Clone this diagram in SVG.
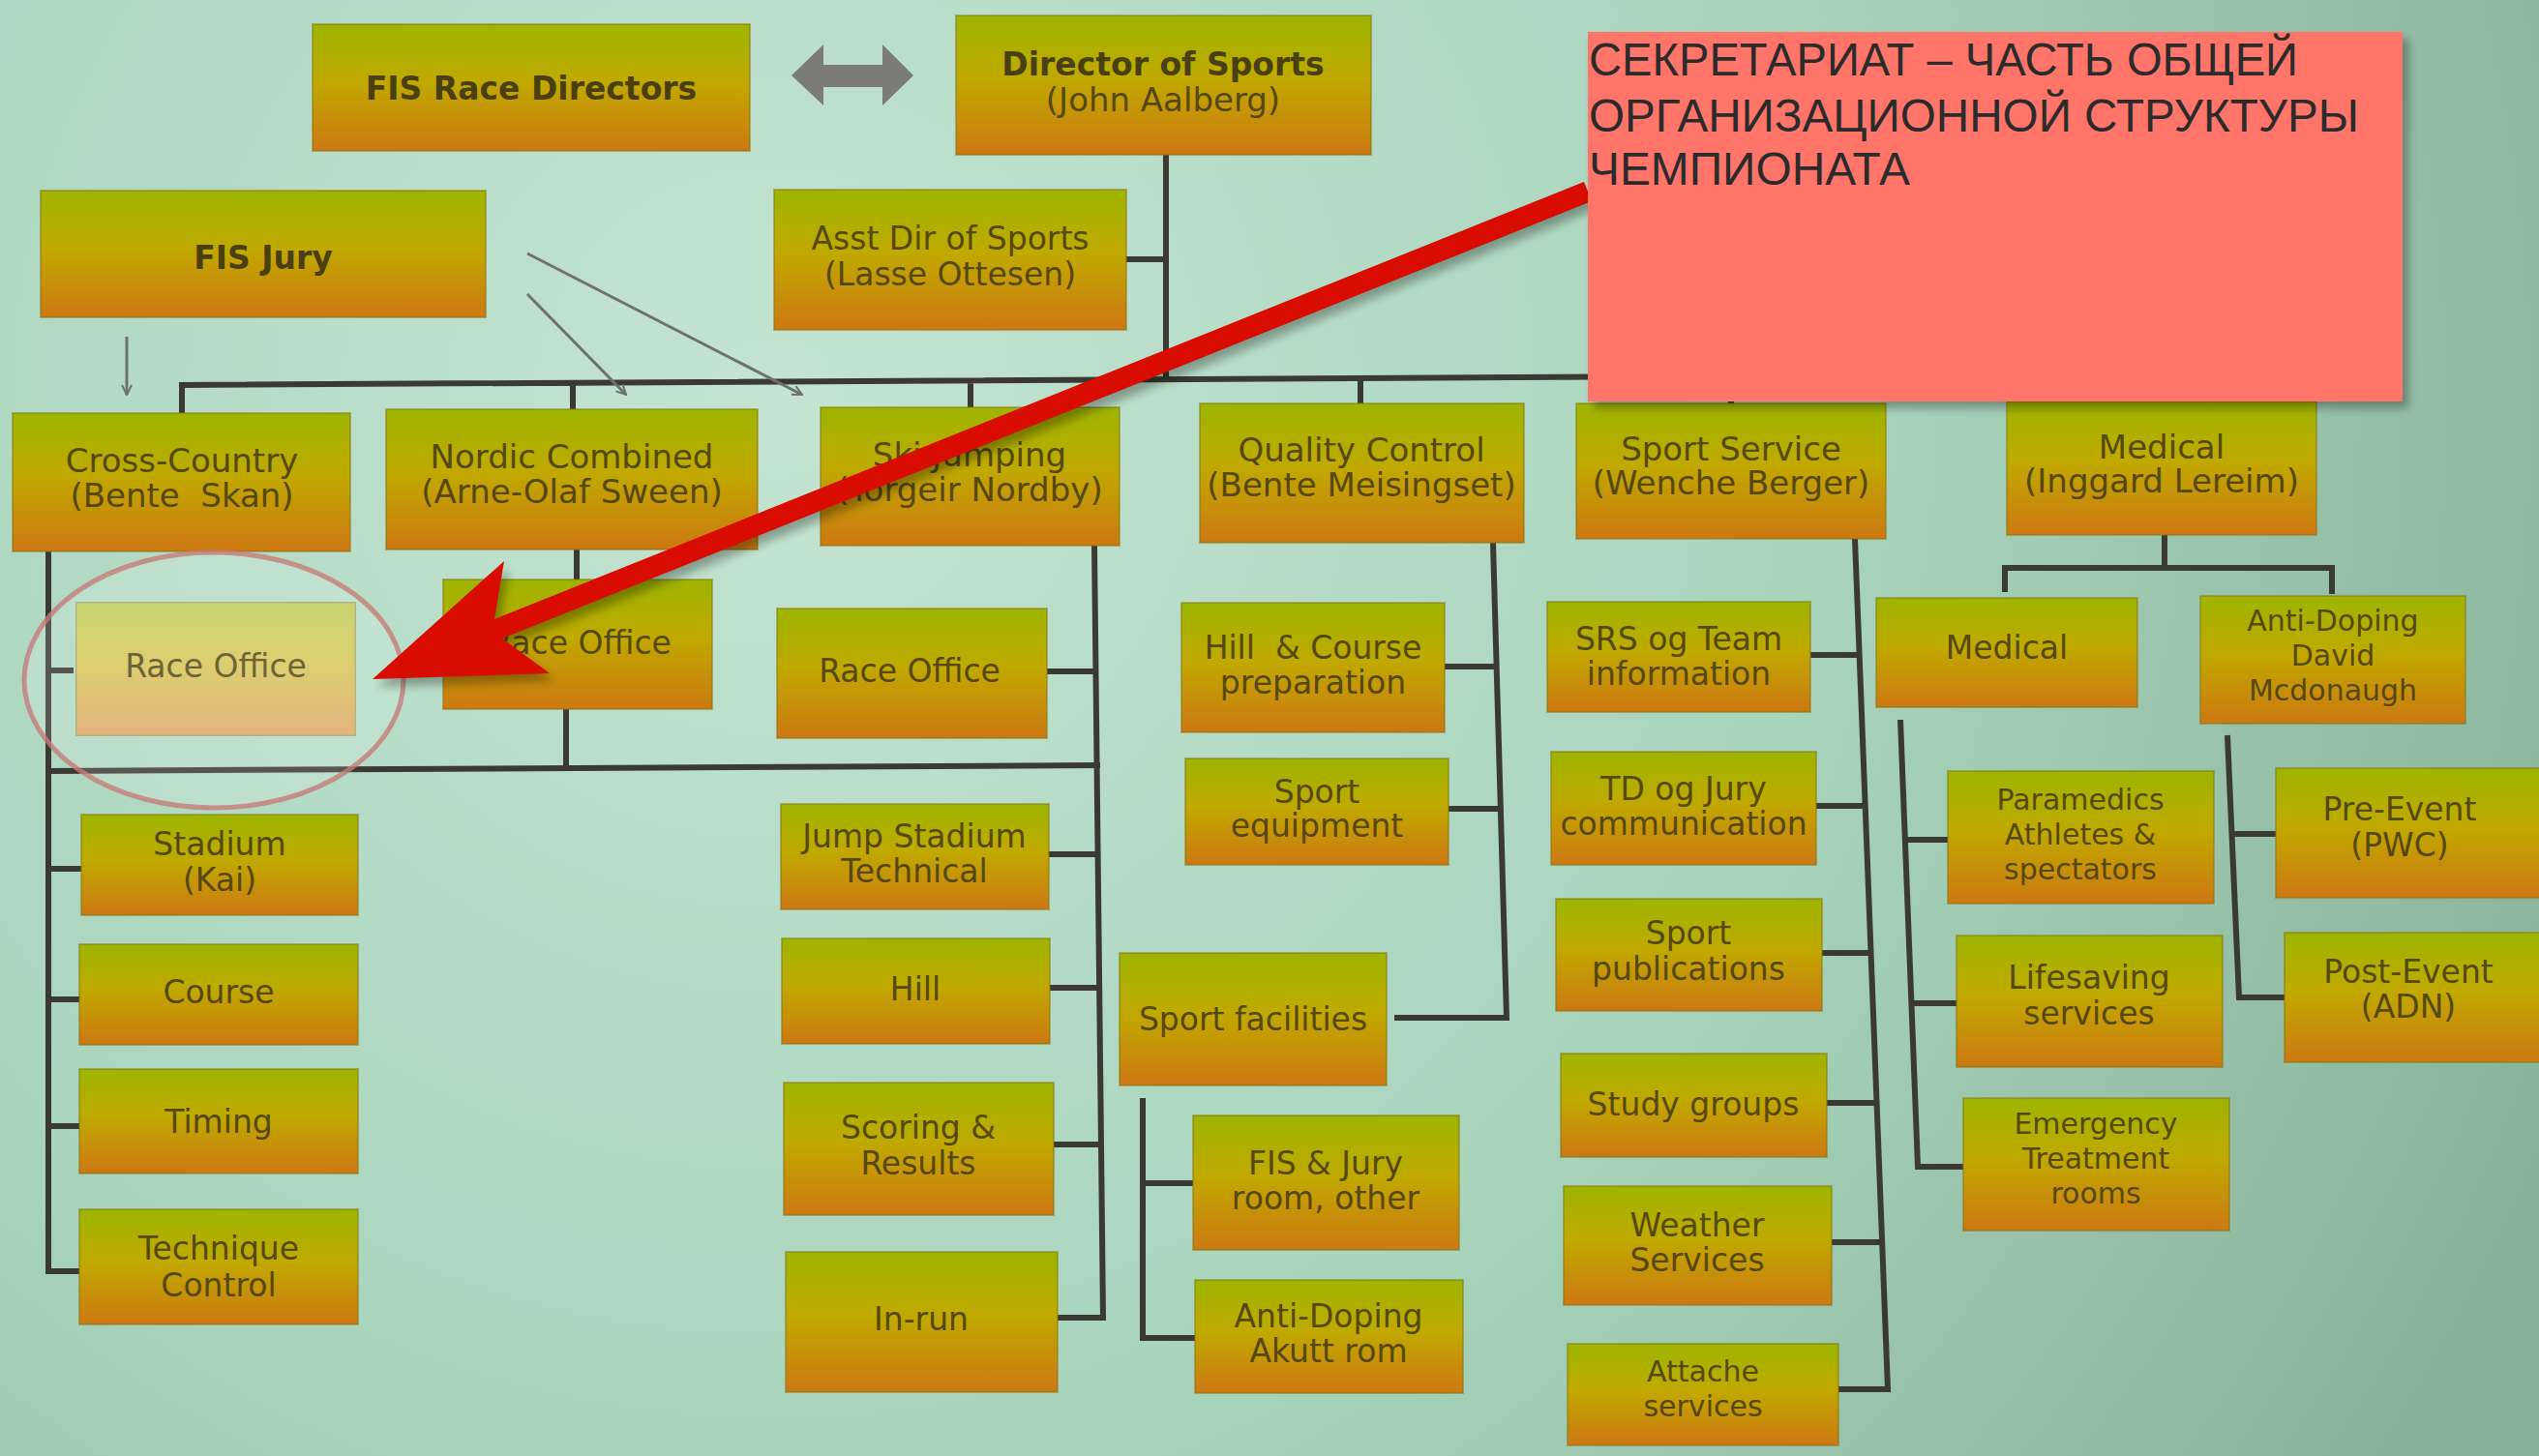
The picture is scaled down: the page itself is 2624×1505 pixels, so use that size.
<svg xmlns="http://www.w3.org/2000/svg" width="2624" height="1505" viewBox="0 0 2624 1505">
<defs>
<radialGradient id="bg" cx="800" cy="420" r="2000" gradientUnits="userSpaceOnUse">
<stop offset="0" stop-color="#c4e4d1"/>
<stop offset="0.55" stop-color="#a8d4bc"/>
<stop offset="1" stop-color="#88b298"/>
</radialGradient>
<linearGradient id="g" x1="0" y1="0" x2="0" y2="1">
<stop offset="0" stop-color="#9db500"/>
<stop offset="0.45" stop-color="#c0a900"/>
<stop offset="1" stop-color="#cd7813"/>
</linearGradient>
<marker id="ah" viewBox="0 0 12 12" refX="11" refY="6" markerWidth="12" markerHeight="12" markerUnits="userSpaceOnUse" orient="auto">
<path d="M1,1 L11,6 L1,11" fill="none" stroke="#6f716c" stroke-width="2"/>
</marker>
<filter id="blur" x="-10%" y="-10%" width="120%" height="120%"><feGaussianBlur stdDeviation="5"/></filter>
<style>
.box{fill:url(#g);stroke:#857515;stroke-width:2;stroke-opacity:.5}
.t{font-family:"DejaVu Sans",sans-serif;font-size:33px;fill:#554813;text-anchor:middle}
.l2{font-size:34px}
.s{font-size:30px}
.b{font-weight:bold;fill:#4a3f10}
.ln{fill:none;stroke:#3a3a32;stroke-width:6}
.thin{fill:none;stroke:#6f716c;stroke-width:3;marker-end:url(#ah)}
.ru{font-family:"Liberation Sans",Arial,sans-serif;font-size:48px;fill:#2b2b2b}
</style>
</defs>
<rect x="0" y="0" width="2624" height="1505" fill="url(#bg)"/>

<g id="connectors">
<path class="ln" d="M1205,160 V392 M1164,268 H1205"/>
<path class="ln" d="M188,427 V398 L2240,386 M592,423 V396 M1003,421 V394 M1406,417 V391 M1789,417 V389 M2237,415 V386"/>
<path class="ln" d="M76,693 H50 V570 M50,693 V1314 H82 M50,898 H84 M50,1033 H82 M50,1164 H82"/>
<path class="ln" d="M50,797 L1137,791"/>
<path class="ln" d="M596,568 V599 M585,733 V795"/>
<path class="ln" d="M1131,564 L1140,1362 H1093 M1082,694 H1132 M1084,883 H1134 M1085,1021 H1136 M1089,1183 H1138"/>
<path class="ln" d="M1543,561 L1557,1052 H1441 M1493,689 H1547 M1497,836 H1551"/>
<path class="ln" d="M1181,1135 V1383 H1235 M1181,1223 H1233"/>
<path class="ln" d="M1917,557 L1951,1436 H1900 M1871,677 H1922 M1877,833 H1928 M1883,985 H1934 M1888,1140 H1940 M1893,1284 H1945"/>
<path class="ln" d="M2237,553 V587 M2072,612 V587 H2410 V614"/>
<path class="ln" d="M1964,744 L1982,1206 H2029 M1969,868 H2013 M1976,1037 H2022"/>
<path class="ln" d="M2302,760 L2314,1031 H2361 M2307,862 H2352"/>
<path class="thin" d="M131,348 V408"/>
<path class="thin" d="M545,262 L829,408"/>
<path class="thin" d="M545,304 L647,408"/>
<polygon points="818,78 851,46 851,67 912,67 912,46 944,78 912,109 912,90 851,90 851,109" fill="#7b7c74"/>
</g>

<g id="fis-race-directors"><rect class="box" x="323" y="25" width="452" height="131"/><text class="t b" x="549" y="103" font-size="36">FIS Race Directors</text></g>
<g id="director-of-sports"><rect class="box" x="988" y="16" width="429" height="144"/><text class="t b" x="1202" y="78" font-size="35">Director of Sports</text><text class="t l2" x="1202" y="115" fill="#6e5c1c">(John Aalberg)</text></g>
<g id="fis-jury"><rect class="box" x="42" y="197" width="460" height="131"/><text class="t b" x="272" y="278" font-size="46">FIS Jury</text></g>
<g id="asst-dir"><rect class="box" x="800" y="196" width="364" height="145"/><text class="t" x="982" y="258">Asst Dir of Sports</text><text class="t" x="982" y="295">(Lasse Ottesen)</text></g>

<g id="cross-country"><rect class="box" x="13" y="427" width="349" height="143"/><text class="t l2" x="188" y="488">Cross-Country</text><text class="t l2" x="188" y="524">(Bente&#160; Skan)</text></g>
<g id="nordic-combined"><rect class="box" x="399" y="423" width="384" height="145"/><text class="t l2" x="591" y="484">Nordic Combined</text><text class="t l2" x="591" y="520">(Arne-Olaf Sween)</text></g>
<g id="ski-jumping"><rect class="box" x="848" y="421" width="309" height="143"/><text class="t l2" x="1002" y="482">Ski Jumping</text><text class="t l2" x="1002" y="518">(Torgeir Nordby)</text></g>
<g id="quality-control"><rect class="box" x="1240" y="417" width="335" height="144"/><text class="t l2" x="1407" y="477">Quality Control</text><text class="t l2" x="1407" y="513">(Bente Meisingset)</text></g>
<g id="sport-service"><rect class="box" x="1629" y="417" width="320" height="140"/><text class="t l2" x="1789" y="476">Sport Service</text><text class="t l2" x="1789" y="511">(Wenche Berger)</text></g>
<g id="medical"><rect class="box" x="2074" y="415" width="320" height="138"/><text class="t l2" x="2234" y="474">Medical</text><text class="t l2" x="2234" y="509">(Inggard Lereim)</text></g>

<g id="cc-race-office"><rect class="box" x="79" y="623" width="288" height="137"/><rect x="79" y="623" width="288" height="137" fill="#fff" opacity="0.35"/><text class="t" x="223" y="700" fill="#a8916a">Race Office</text></g>
<g id="stadium"><rect class="box" x="84" y="842" width="286" height="104"/><text class="t" x="227" y="884">Stadium</text><text class="t" x="227" y="921">(Kai)</text></g>
<g id="course"><rect class="box" x="82" y="976" width="288" height="104"/><text class="t" x="226" y="1037">Course</text></g>
<g id="timing"><rect class="box" x="82" y="1105" width="288" height="108"/><text class="t" x="226" y="1171">Timing</text></g>
<g id="technique-control"><rect class="box" x="82" y="1250" width="288" height="119"/><text class="t" x="226" y="1302">Technique</text><text class="t" x="226" y="1340">Control</text></g>

<g id="nc-race-office"><rect class="box" x="458" y="599" width="278" height="134"/><text class="t" x="600" y="676">Race Office</text></g>

<g id="sj-race-office"><rect class="box" x="803" y="629" width="279" height="134"/><text class="t" x="940" y="705">Race Office</text></g>
<g id="jump-stadium"><rect class="box" x="807" y="831" width="277" height="109"/><text class="t" x="945" y="876">Jump Stadium</text><text class="t" x="945" y="912">Technical</text></g>
<g id="hill"><rect class="box" x="808" y="970" width="277" height="109"/><text class="t" x="946" y="1034">Hill</text></g>
<g id="scoring"><rect class="box" x="810" y="1119" width="279" height="137"/><text class="t" x="949" y="1177">Scoring &amp;</text><text class="t" x="949" y="1214">Results</text></g>
<g id="in-run"><rect class="box" x="812" y="1294" width="281" height="145"/><text class="t" x="952" y="1375">In-run</text></g>

<g id="hill-course"><rect class="box" x="1221" y="623" width="272" height="134"/><text class="t" x="1357" y="681">Hill&#160; &amp; Course</text><text class="t" x="1357" y="717">preparation</text></g>
<g id="sport-equipment"><rect class="box" x="1225" y="784" width="272" height="110"/><text class="t" x="1361" y="830">Sport</text><text class="t" x="1361" y="865">equipment</text></g>
<g id="sport-facilities"><rect class="box" x="1157" y="985" width="276" height="137"/><text class="t" x="1295" y="1065">Sport facilities</text></g>
<g id="fis-jury-room"><rect class="box" x="1233" y="1153" width="275" height="139"/><text class="t" x="1370" y="1214">FIS &amp; Jury</text><text class="t" x="1370" y="1250">room, other</text></g>
<g id="anti-doping-akutt"><rect class="box" x="1235" y="1323" width="277" height="117"/><text class="t" x="1373" y="1372">Anti-Doping</text><text class="t" x="1373" y="1408">Akutt rom</text></g>

<g id="srs-team"><rect class="box" x="1599" y="622" width="272" height="114"/><text class="t" x="1735" y="672">SRS og Team</text><text class="t" x="1735" y="708">information</text></g>
<g id="td-jury"><rect class="box" x="1603" y="777" width="274" height="117"/><text class="t" x="1740" y="827">TD og Jury</text><text class="t" x="1740" y="863">communication</text></g>
<g id="sport-publications"><rect class="box" x="1608" y="929" width="275" height="116"/><text class="t" x="1745" y="976">Sport</text><text class="t" x="1745" y="1013">publications</text></g>
<g id="study-groups"><rect class="box" x="1613" y="1089" width="275" height="107"/><text class="t" x="1750" y="1153">Study groups</text></g>
<g id="weather"><rect class="box" x="1616" y="1226" width="277" height="123"/><text class="t" x="1754" y="1278">Weather</text><text class="t" x="1754" y="1314">Services</text></g>
<g id="attache"><rect class="box" x="1620" y="1389" width="280" height="105"/><text class="t s" x="1760" y="1428">Attache</text><text class="t s" x="1760" y="1464">services</text></g>

<g id="medical-sub"><rect class="box" x="1939" y="618" width="270" height="113"/><text class="t" x="2074" y="681">Medical</text></g>
<g id="anti-doping-david"><rect class="box" x="2274" y="616" width="274" height="132"/><text class="t s" x="2411" y="652">Anti-Doping</text><text class="t s" x="2411" y="688">David</text><text class="t s" x="2411" y="724">Mcdonaugh</text></g>
<g id="paramedics"><rect class="box" x="2013" y="797" width="275" height="137"/><text class="t s" x="2150" y="837">Paramedics</text><text class="t s" x="2150" y="873">Athletes &amp;</text><text class="t s" x="2150" y="909">spectators</text></g>
<g id="lifesaving"><rect class="box" x="2022" y="967" width="275" height="136"/><text class="t" x="2159" y="1022">Lifesaving</text><text class="t" x="2159" y="1059">services</text></g>
<g id="emergency"><rect class="box" x="2029" y="1135" width="275" height="137"/><text class="t s" x="2166" y="1172">Emergency</text><text class="t s" x="2166" y="1208">Treatment</text><text class="t s" x="2166" y="1244">rooms</text></g>
<g id="pre-event"><rect class="box" x="2352" y="794" width="290" height="134"/><text class="t" x="2480" y="848">Pre-Event</text><text class="t" x="2480" y="885">(PWC)</text></g>
<g id="post-event"><rect class="box" x="2361" y="964" width="290" height="134"/><text class="t" x="2489" y="1016">Post-Event</text><text class="t" x="2489" y="1052">(ADN)</text></g>

<g id="highlight">
<ellipse cx="221" cy="703" rx="196" ry="132" fill="#ffffff" fill-opacity="0.15" stroke="#c57c78" stroke-opacity="0.8" stroke-width="5"/>
<polygon points="385,702 521,580 511,640 1637,188 1645,208 519,660 568,696" fill="#000" opacity="0.3" transform="translate(5,8)" filter="url(#blur)"/>
<polygon points="385,702 521,580 511,640 1637,188 1645,208 519,660 568,696" fill="#d80c00"/>
</g>

<g id="note">
<rect x="1647" y="40" width="842" height="382" fill="#000" opacity="0.3" filter="url(#blur)"/>
<rect x="1641" y="33" width="842" height="382" fill="#ff7569"/>
<text class="ru" x="1642" y="78" textLength="733" lengthAdjust="spacingAndGlyphs">СЕКРЕТАРИАТ – ЧАСТЬ ОБЩЕЙ</text>
<text class="ru" x="1642" y="136" textLength="796" lengthAdjust="spacingAndGlyphs">ОРГАНИЗАЦИОННОЙ СТРУКТУРЫ</text>
<text class="ru" x="1642" y="191" textLength="332" lengthAdjust="spacingAndGlyphs">ЧЕМПИОНАТА</text>
</g>
</svg>
